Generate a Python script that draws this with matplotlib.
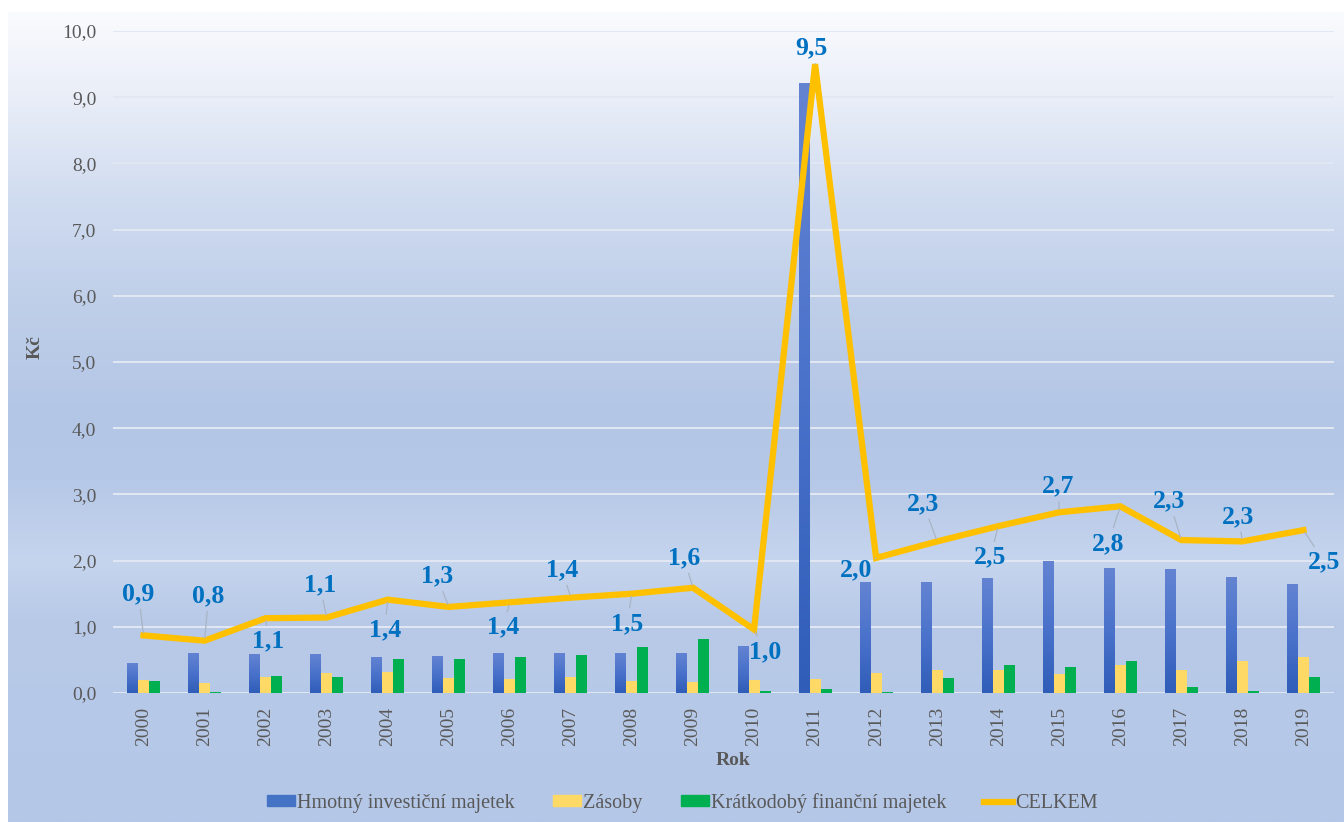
import matplotlib
matplotlib.use('Agg')
import matplotlib.pyplot as plt
import numpy as np
from matplotlib.colors import LinearSegmentedColormap
from matplotlib.patches import Patch
from matplotlib.lines import Line2D
from matplotlib.ticker import FuncFormatter

plt.rcParams['font.family'] = ['Liberation Serif', 'DejaVu Serif']

# Data
roky = ['2000', '2001', '2002', '2003', '2004', '2005', '2006', '2007', '2008', '2009',
        '2010', '2011', '2012', '2013', '2014', '2015', '2016', '2017', '2018', '2019']
hmotny = [0.46, 0.61, 0.59, 0.59, 0.55, 0.56, 0.61, 0.61, 0.61, 0.61,
          0.71, 9.21, 1.68, 1.68, 1.73, 2.00, 1.89, 1.87, 1.75, 1.65]
zasoby = [0.20, 0.15, 0.24, 0.30, 0.32, 0.22, 0.21, 0.24, 0.18, 0.16,
          0.20, 0.21, 0.30, 0.34, 0.35, 0.29, 0.42, 0.35, 0.48, 0.55]
kratkodoby = [0.18, 0.02, 0.26, 0.24, 0.51, 0.51, 0.54, 0.57, 0.70, 0.81,
              0.03, 0.06, 0.02, 0.23, 0.42, 0.40, 0.48, 0.09, 0.03, 0.24]
celkem = [0.87, 0.79, 1.13, 1.14, 1.41, 1.30, 1.37, 1.44, 1.50, 1.59,
          0.96, 9.50, 2.04, 2.29, 2.52, 2.73, 2.82, 2.31, 2.29, 2.46]

# posun popisku (v pixelech) od bodu linky
posuny = [(-5, 42), (4, 45), (3, -23), (-7, 33), (-3, -30), (-12, 31), (-7, -25),
          (-9, 28), (-5, -30), (-9, 30), (11, -22), (-4, 16), (-20, -12), (-14, 38),
          (-8, -31), (-1, 26), (-12, -37), (-12, 39), (-4, 25), (21, -32)]

W, H = 1344, 822
fig = plt.figure(figsize=(W / 100, H / 100), dpi=100)
fig.patch.set_facecolor('white')

# pozadi s prechodem
bg_cmap = LinearSegmentedColormap.from_list('bg', [
    (0.00, '#fafbfe'), (0.11, '#e8edf7'), (0.23, '#d0dcf0'), (0.36, '#bfcfe9'),
    (0.50, '#b3c6e6'), (0.58, '#b6c8e7'), (0.68, '#c6d5ee'), (0.75, '#b8cae8'),
    (1.00, '#b4c7e7')])
bg = fig.add_axes([8 / W, 0, 1 - 8 / W, (H - 12) / H], zorder=-10)
bg.imshow(np.linspace(0, 1, 512).reshape(-1, 1), cmap=bg_cmap, aspect='auto',
          extent=[0, 1, 0, 1])
bg.axis('off')

ax = fig.add_axes([113 / W, (H - 693) / H, (1334 - 113) / W, (693 - 31) / H])
ax.set_facecolor('none')

x = np.arange(len(roky))
w = 0.18
b1 = ax.bar(x - w, hmotny, w, color='#4472c4', zorder=3)
b2 = ax.bar(x, zasoby, w, color='#ffd966', zorder=3)
b3 = ax.bar(x + w, kratkodoby, w, color='#00b050', zorder=3)

# modre sloupce s prechodem
blue_cmap = LinearSegmentedColormap.from_list('blue', ['#2f5db8', '#4a72cb', '#6484d2'])
grad = np.linspace(0, 1, 256).reshape(-1, 1)
for r in b1:
    x0, y0 = r.get_xy()
    im = ax.imshow(grad, extent=[x0, x0 + r.get_width(), y0, y0 + r.get_height()],
                   cmap=blue_cmap, aspect='auto', origin='lower', zorder=3.1)
    im.set_clip_path(r)

ax.plot(x, celkem, color='#ffc000', linewidth=4.5, zorder=4, solid_joinstyle='miter')

for i, v in enumerate(celkem):
    ax.annotate(f'{v:.1f}'.replace('.', ','), (x[i], v), xytext=posuny[i],
                textcoords='offset pixels', ha='center', va='center',
                fontsize=18.5, fontweight='bold', color='#0070c0', zorder=6,
                arrowprops=dict(arrowstyle='-', color='#aab4c4', lw=0.9,
                                shrinkA=1, shrinkB=2))

ax.set_xlim(-0.5, len(roky) - 0.5)
ax.set_ylim(0, 10)
ax.set_yticks(np.arange(0, 11, 1))
ax.yaxis.set_major_formatter(FuncFormatter(lambda v, p: f'{v:.1f}'.replace('.', ',')))
ax.set_xticks(x)
ax.set_xticklabels(roky, rotation=90)
ax.tick_params(axis='both', length=0, labelsize=14, labelcolor='#595959')
ax.tick_params(axis='x', pad=10)
ax.tick_params(axis='y', pad=12)
ax.grid(axis='y', color='#e2e8f3', linewidth=1.4, zorder=0)
ax.set_axisbelow(True)
for s in ax.spines.values():
    s.set_visible(False)

fig.text(35 / W, 1 - 347 / H, 'Kč', rotation=90, ha='center', va='center',
         fontsize=14, fontweight='bold', color='#595959')
fig.text(733 / W, 1 - 760 / H, 'Rok', ha='center', va='center',
         fontsize=14, fontweight='bold', color='#595959')

handles = [Patch(color='#4472c4'), Patch(color='#ffd966'), Patch(color='#00b050'),
           Line2D([0], [0], color='#ffc000', linewidth=4.5)]
labels = ['Hmotný investiční majetek', 'Zásoby', 'Krátkodobý finanční majetek', 'CELKEM']
leg = fig.legend(handles, labels, loc='center', bbox_to_anchor=(682 / W, 1 - 803 / H),
                 ncol=4, frameon=False, fontsize=14.5, handlelength=1.4, handleheight=0.45,
                 handletextpad=0.1, columnspacing=1.9)
for t in leg.get_texts():
    t.set_color('#595959')

fig.savefig('out.png', dpi=100)
